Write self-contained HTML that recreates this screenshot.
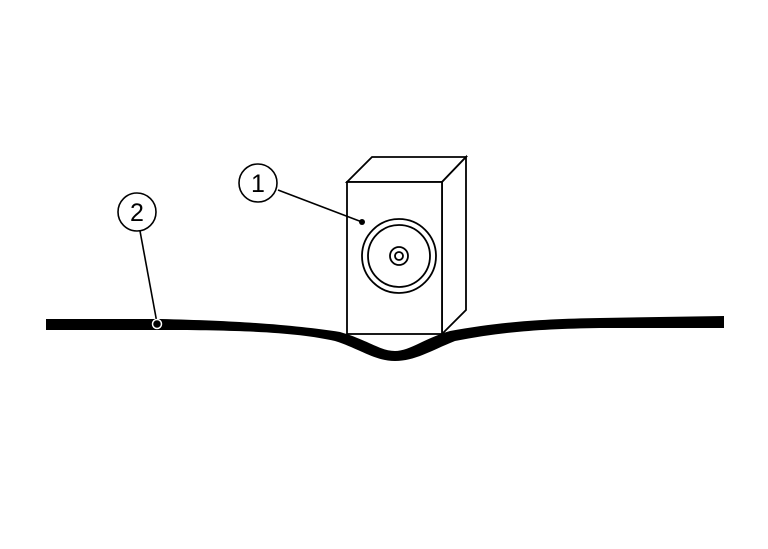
<!DOCTYPE html>
<html><head><style>html,body{margin:0;padding:0;background:#fff;}</style></head>
<body>
<svg width="768" height="544" viewBox="0 0 768 544" xmlns="http://www.w3.org/2000/svg">
<rect width="768" height="544" fill="#fff"/>
<path d="M46,319 L160,319 C250,321 300,326 340,332 C368,340 380,351 395,351 C410,351 425,338 450,331 C500,322 540,319 600,318 L724,316 L724,328 L600,328 C540,329 500,332 455,341 C430,351 415,361 395,361 C375,361 360,349 335,341 C300,333 250,330 160,330 L46,330 Z" fill="#000"/>
<g fill="#fff" stroke="#000" stroke-width="1.8" stroke-linejoin="miter">
<polygon points="347,182 372,157 466,157 442,182"/>
<polygon points="442,182 466,157 466,310 442,334"/>
<rect x="347" y="182" width="95" height="152"/>
<circle cx="399" cy="256" r="37"/>
<circle cx="399" cy="256" r="31"/>
<circle cx="399" cy="256" r="9"/>
<circle cx="399" cy="256" r="4"/>
</g>
<circle cx="362" cy="222" r="3" fill="#000"/>
<line x1="278" y1="190" x2="362" y2="222" stroke="#000" stroke-width="1.6"/>
<circle cx="258" cy="183" r="19" fill="#fff" stroke="#000" stroke-width="1.6"/>
<text x="258" y="192" text-anchor="middle" font-family="Liberation Sans, sans-serif" font-size="25">1</text>
<line x1="140" y1="231" x2="157" y2="323" stroke="#000" stroke-width="1.6"/>
<circle cx="137" cy="212" r="19" fill="#fff" stroke="#000" stroke-width="1.6"/>
<text x="137" y="221" text-anchor="middle" font-family="Liberation Sans, sans-serif" font-size="25">2</text>
<circle cx="157" cy="324" r="4.5" fill="#000" stroke="#fff" stroke-width="1.5"/>
</svg>
</body></html>
